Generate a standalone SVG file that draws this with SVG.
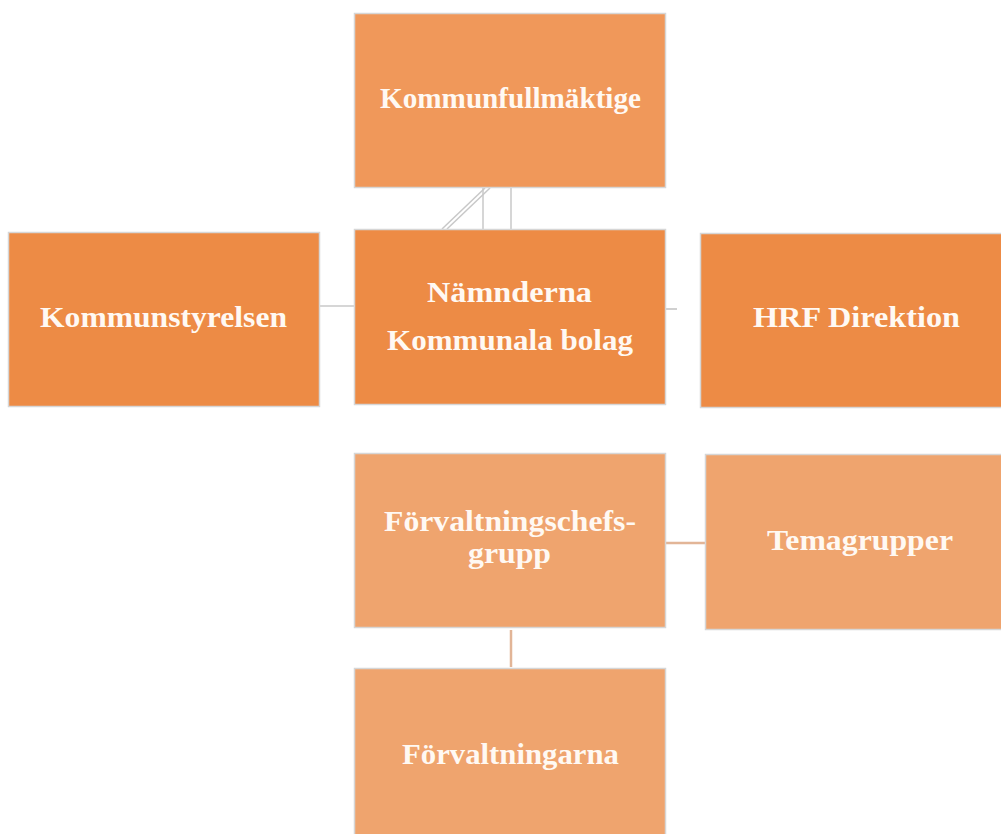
<svg xmlns="http://www.w3.org/2000/svg" width="1001" height="834" viewBox="0 0 1001 834">
<style>
.box{stroke:#d6d6d6;stroke-width:1.5}
.c1{fill:#F0985A}
.c2{fill:#ED8B45}
.c3{fill:#EFA46E}
.t{font-family:"Liberation Serif","Times New Roman",serif;font-weight:bold;font-size:29px;fill:#FFF9F3;text-anchor:middle}
.lg{stroke:#c8c8c8;stroke-width:1.5;fill:none}
.lp{stroke:#E2B597;stroke-width:2.5;fill:none}
</style>
<rect width="1001" height="834" fill="#ffffff"/>
<g id="connectors">
<line class="lg" x1="483" y1="188" x2="483" y2="229"/>
<line class="lg" x1="511" y1="188" x2="511" y2="229"/>
<line class="lg" x1="485" y1="188" x2="442" y2="229" stroke="#dcdcdc"/>
<line class="lg" x1="490" y1="188" x2="447" y2="229" stroke="#dcdcdc"/>
<line class="lg" x1="320" y1="306" x2="354" y2="306"/>
<line x1="666" y1="309" x2="677" y2="309" stroke="#d0d0d0" stroke-width="2"/>
<line class="lp" x1="666" y1="543" x2="705" y2="543"/>
<line class="lp" x1="511" y1="630" x2="511" y2="667"/>
</g>
<g id="kommunfullmaktige">
<rect class="box c1" x="354.5" y="13.5" width="311" height="174"/>
<text class="t" x="510.5" y="108" textLength="261" lengthAdjust="spacingAndGlyphs">Kommunfullmäktige</text>
</g>
<g id="kommunstyrelsen">
<rect class="box c2" x="8.5" y="232.5" width="311" height="174"/>
<text class="t" x="163.5" y="327" textLength="247" lengthAdjust="spacingAndGlyphs">Kommunstyrelsen</text>
</g>
<g id="namnderna">
<rect class="box c2" x="354.5" y="229.5" width="311" height="175"/>
<text class="t" x="509.5" y="302" textLength="165" lengthAdjust="spacingAndGlyphs">Nämnderna</text>
<text class="t" x="510" y="350" textLength="246" lengthAdjust="spacingAndGlyphs">Kommunala bolag</text>
</g>
<g id="hrf">
<rect class="box c2" x="700.5" y="233.5" width="312" height="174"/>
<text class="t" x="856.5" y="327" textLength="207" lengthAdjust="spacingAndGlyphs">HRF Direktion</text>
</g>
<g id="forvaltningschefsgrupp">
<rect class="box c3" x="354.5" y="453.5" width="311" height="174"/>
<text class="t" x="510" y="531" textLength="252" lengthAdjust="spacingAndGlyphs">Förvaltningschefs-</text>
<text class="t" x="509.5" y="563" textLength="83" lengthAdjust="spacingAndGlyphs">grupp</text>
</g>
<g id="temagrupper">
<rect class="box c3" x="705.5" y="454.5" width="310" height="175"/>
<text class="t" x="860" y="550" textLength="186" lengthAdjust="spacingAndGlyphs">Temagrupper</text>
</g>
<g id="forvaltningarna">
<rect class="box c3" x="354.5" y="668.5" width="311" height="175"/>
<text class="t" x="510.5" y="764" textLength="217" lengthAdjust="spacingAndGlyphs">Förvaltningarna</text>
</g>
</svg>
